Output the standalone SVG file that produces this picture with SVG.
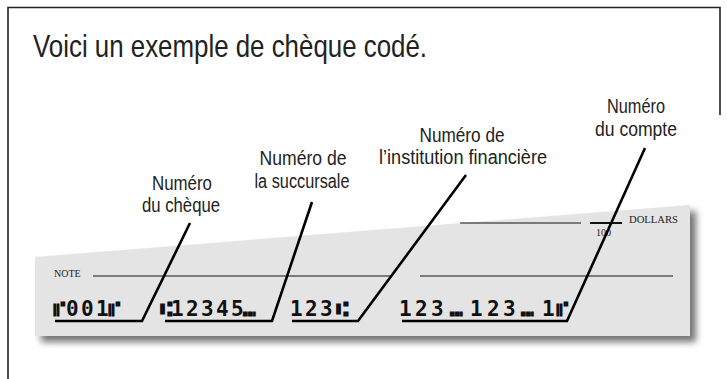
<svg xmlns="http://www.w3.org/2000/svg" width="727" height="379" viewBox="0 0 727 379">
<defs>
<filter id="sh" x="-10%" y="-30%" width="120%" height="160%">
<feGaussianBlur stdDeviation="3.5"/>
</filter>
<style>
.frame{fill:none;stroke:#222;stroke-width:1.6}
.title{font-family:"Liberation Sans Narrow","Liberation Sans",sans-serif;font-size:32px;fill:#222}
.lbl{font-family:"Liberation Sans Narrow","Liberation Sans",sans-serif;font-size:20px;fill:#222;text-anchor:middle}
.serif{font-family:"Liberation Serif","Times New Roman",serif;font-size:10px;fill:#222}
.micr{font-family:"DejaVu Sans Mono","DejaVu Sans",monospace;font-weight:bold;font-size:21px;fill:#111}
.rule{stroke:#111;stroke-width:1.2}
.lead{fill:none;stroke:#000;stroke-width:2.6;stroke-linejoin:miter}
</style>
</defs>
<rect width="727" height="379" fill="#fff"/>
<path class="frame" d="M8,379 V7.5 H720 V115"/>
<text class="title" x="33" y="57" textLength="394" lengthAdjust="spacingAndGlyphs">Voici un exemple de chèque codé.</text>

<g id="cheque">
<polygon points="41,263 696,211 696,342 41,342" fill="#000" opacity="0.55" filter="url(#sh)"/>
<polygon points="35,257 690,205 690,336 35,336" fill="#e3e4e3"/>
<text class="serif" x="54" y="277" font-size="9.5">NOTE</text>
<line class="rule" x1="93" y1="276" x2="390" y2="276"/>
<line class="rule" x1="420" y1="276" x2="673" y2="276"/>
<line class="rule" x1="460" y1="223" x2="581" y2="223"/>
<line x1="590" y1="223" x2="622" y2="223" stroke="#111" stroke-width="2"/>
<text class="serif" x="629" y="223" font-size="9.5" textLength="49" lengthAdjust="spacingAndGlyphs">DOLLARS</text>
<text class="serif" x="596" y="236" font-size="9.5">100</text>
</g>

<g id="micr">
<text class="micr" x="53 66 81 96 108" y="316">⑈001⑈</text>
<text class="micr" x="160 171 186 201 216 231 243" y="316">⑆12345⑉</text>
<text class="micr" x="290 305 320 336" y="316">123⑆</text>
<text class="micr" x="399 415 431 450 470 487 503 521 542 556" y="316">123⑉123⑉1⑈</text>
</g>

<g id="label-cheque">
<text class="lbl" x="182" y="190" textLength="60" lengthAdjust="spacingAndGlyphs">Numéro</text>
<text class="lbl" x="181" y="212" textLength="78" lengthAdjust="spacingAndGlyphs">du chèque</text>
</g>
<g id="label-succursale">
<text class="lbl" x="303" y="165" textLength="87" lengthAdjust="spacingAndGlyphs">Numéro de</text>
<text class="lbl" x="302" y="188" textLength="95" lengthAdjust="spacingAndGlyphs">la succursale</text>
</g>
<g id="label-institution">
<text class="lbl" x="462" y="142" textLength="85" lengthAdjust="spacingAndGlyphs">Numéro de</text>
<text class="lbl" x="463" y="164" textLength="168" lengthAdjust="spacingAndGlyphs">l’institution financière</text>
</g>
<g id="label-compte">
<text class="lbl" x="636" y="113" textLength="58" lengthAdjust="spacingAndGlyphs">Numéro</text>
<text class="lbl" x="636" y="136" textLength="82" lengthAdjust="spacingAndGlyphs">du compte</text>
</g>

<g id="connectors">
<polyline class="lead" points="55,321 142,321 190,223"/>
<polyline class="lead" points="165,321 272,321 312,202"/>
<polyline class="lead" points="292,321 358,321 466,175"/>
<polyline class="lead" points="402,321 567,321 645,148"/>
</g>
</svg>
